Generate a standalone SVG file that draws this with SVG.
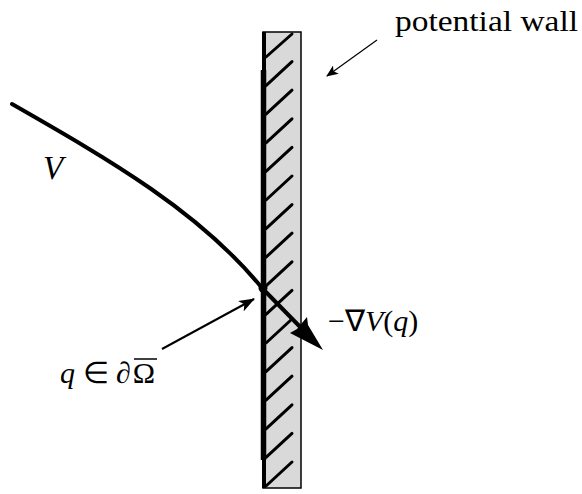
<svg xmlns="http://www.w3.org/2000/svg" width="582" height="494" viewBox="0 0 582 494">
<style>
.lbl{font-family:'Liberation Serif','Times New Roman',serif;fill:#000}
.it{font-style:italic}
.hatch{stroke:#000;stroke-width:3;stroke-linecap:round}
</style>
<defs>
<marker id="thin" viewBox="0 0 12 10" refX="11" refY="5" markerWidth="12" markerHeight="10" markerUnits="userSpaceOnUse" orient="auto">
<path d="M0,0 L12,5 L0,10 L3,5 Z" fill="#000"/>
</marker>
<marker id="mid" viewBox="0 0 16 12" refX="15" refY="6" markerWidth="16" markerHeight="12" markerUnits="userSpaceOnUse" orient="auto">
<path d="M0,0 L16,6 L0,12 L4,6 Z" fill="#000"/>
</marker>
</defs>
<rect width="582" height="494" fill="#fff"/>
<g id="wall">
<rect x="263" y="32" width="38" height="456" fill="#d9d9d9" stroke="#000" stroke-width="1.5"/>
<line x1="264" y1="32" x2="264" y2="488" stroke="#000" stroke-width="4"/>
<line x1="263.5" y1="70" x2="263.5" y2="460" stroke="#000" stroke-width="5.5"/>
<g class="hatch">
<line x1="266" y1="57" x2="292" y2="34"/>
<line x1="266" y1="85.6" x2="292" y2="61.6"/>
<line x1="266" y1="114.2" x2="292" y2="90.2"/>
<line x1="266" y1="142.8" x2="292" y2="118.8"/>
<line x1="266" y1="171.4" x2="292" y2="147.4"/>
<line x1="266" y1="200" x2="292" y2="176"/>
<line x1="266" y1="228.6" x2="292" y2="204.6"/>
<line x1="266" y1="257.2" x2="292" y2="233.2"/>
<line x1="266" y1="285.8" x2="292" y2="261.8"/>
<line x1="266" y1="314.4" x2="292" y2="290.4"/>
<line x1="266" y1="343" x2="292" y2="319"/>
<line x1="266" y1="371.6" x2="292" y2="347.6"/>
<line x1="266" y1="400.2" x2="292" y2="376.2"/>
<line x1="266" y1="428.8" x2="292" y2="404.8"/>
<line x1="266" y1="457.4" x2="292" y2="433.4"/>
<line x1="266" y1="486" x2="292" y2="462"/>
</g>
</g>
<g id="connectors" fill="none" stroke="#000">
<path id="curveV" d="M12,104 C110,160 200,212 262,288" stroke-width="4" stroke-linecap="round"/>
<line id="gradArrow" x1="262" y1="288" x2="310" y2="337" stroke-width="4"/>
<path d="M323,350 L290,333 L297,329 L307,317 L308,325 Z" fill="#000" stroke="none"/>
<line id="qArrow" x1="162" y1="349" x2="254" y2="299" stroke-width="2" marker-end="url(#mid)"/>
<line id="wallArrow" x1="377" y1="40" x2="327" y2="76" stroke-width="1.2" marker-end="url(#thin)"/>
</g>
<g id="point-q">
<circle cx="263" cy="288" r="4.5" fill="#000"/>
</g>
<g id="label-wall">
<text class="lbl" x="395" y="31" font-size="29" font-family="Liberation Serif" textLength="183" lengthAdjust="spacingAndGlyphs">potential wall</text>
</g>
<g id="label-V">
<text class="lbl it" x="43" y="179" font-size="33" font-family="Liberation Serif">V</text>
</g>
<g id="label-grad">
<text class="lbl" x="328" y="331" font-size="30" font-family="Liberation Serif"><tspan>−∇</tspan><tspan class="it">V</tspan><tspan>(</tspan><tspan class="it">q</tspan><tspan>)</tspan></text>
</g>
<g id="label-q">
<text class="lbl" x="60" y="383" font-size="30" font-family="Liberation Serif"><tspan class="it">q</tspan><tspan> ∈ ∂</tspan><tspan dx="2">Ω</tspan></text>
<line x1="134" y1="359" x2="157" y2="359" stroke="#000" stroke-width="1.5"/>
</g>
</svg>
